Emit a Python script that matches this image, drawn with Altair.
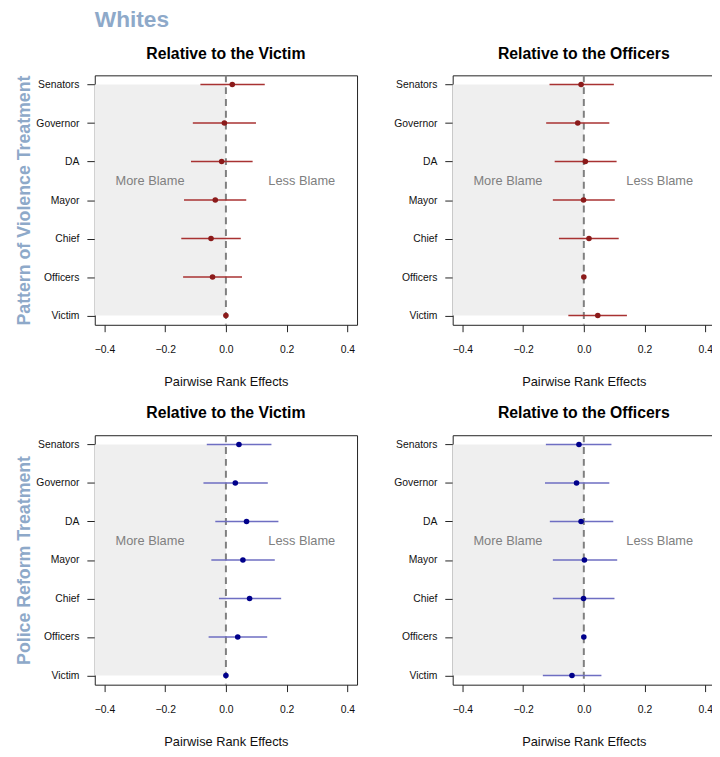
import altair as alt
import pandas as pd

FONT = "Liberation Sans"

categories = ["Victim", "Officers", "Chief", "Mayor", "DA", "Governor", "Senators"]
positions = [1, 2, 3, 4, 5, 6, 7]

# Pattern of Violence treatment
viol_victim_est = [0.0, -0.044, -0.049, -0.035, -0.014, -0.005, 0.021]
viol_victim_lo = [None, -0.141, -0.147, -0.138, -0.115, -0.109, -0.084]
viol_victim_hi = [None, 0.053, 0.049, 0.067, 0.088, 0.099, 0.128]

viol_off_est = [0.046, 0.0, 0.017, -0.001, 0.005, -0.020, -0.009]
viol_off_lo = [-0.051, None, -0.082, -0.102, -0.096, -0.124, -0.113]
viol_off_hi = [0.142, None, 0.115, 0.102, 0.108, 0.084, 0.099]

# Police Reform treatment
ref_victim_est = [0.0, 0.039, 0.078, 0.056, 0.068, 0.031, 0.043]
ref_victim_lo = [None, -0.057, -0.023, -0.048, -0.035, -0.074, -0.063]
ref_victim_hi = [None, 0.136, 0.182, 0.161, 0.173, 0.138, 0.150]

ref_off_est = [-0.039, 0.0, -0.001, 0.002, -0.009, -0.024, -0.016]
ref_off_lo = [-0.135, None, -0.102, -0.102, -0.112, -0.128, -0.125]
ref_off_hi = [0.058, None, 0.101, 0.110, 0.097, 0.084, 0.091]

annot_text = ["More Blame", "Less Blame"]
annot_x = [-0.25, 0.25]
annot_y = [4.5, 4.5]

x_ticks = [-0.4, -0.2, 0.0, 0.2, 0.4]
XMIN, XMAX = -0.432, 0.432
YMIN, YMAX = 0.76, 7.24

W, H = 266, 253

label_expr = "[''," + ",".join("'%s'" % c for c in categories) + "][datum.value]"

RED_PT, RED_LN = "#8B1A1A", "#A83232"
BLUE_PT, BLUE_LN = "#00008B", "#6E6EC2"


def xenc(field):
    return alt.X(
        field, type="quantitative",
        scale=alt.Scale(domain=[XMIN, XMAX], nice=False, zero=False),
        axis=alt.Axis(values=x_ticks, format=".1f", title="Pairwise Rank Effects",
                      labelPadding=13, titlePadding=21, tickSize=7),
    )


def yenc(field, ytitle):
    if ytitle:
        ax = alt.Axis(values=positions, labelExpr=label_expr, title=ytitle,
                      titleX=-66, titleBaseline="alphabetic", titleColor="#8EA9C9",
                      titleFontSize=18, titleFontWeight="bold", titleFont=FONT,
                      tickSize=8, labelPadding=8)
    else:
        ax = alt.Axis(values=positions, labelExpr=label_expr, title=None,
                      tickSize=8, labelPadding=8)
    return alt.Y(field, type="quantitative",
                 scale=alt.Scale(domain=[YMIN, YMAX], nice=False, zero=False),
                 axis=ax)


def panel(est, lo, hi, pt_color, ln_color, title, ytitle=None):
    df = pd.DataFrame({"pos": positions, "cat": categories,
                       "est": est, "lo": lo, "hi": hi})
    shade = pd.DataFrame({"x": [XMIN], "x2": [0.0],
                          "y": [min(positions)], "y2": [max(positions)]})
    zero = pd.DataFrame({"x": [0.0]})
    ann = pd.DataFrame({"t": annot_text, "x": annot_x, "y": annot_y})

    rect = alt.Chart(shade).mark_rect(color="#EFEFEF").encode(
        x=xenc("x"), x2="x2", y=yenc("y", ytitle), y2="y2")
    txt = alt.Chart(ann).mark_text(font=FONT, fontSize=13, color="#808080").encode(
        x=xenc("x"), y=yenc("y", ytitle), text="t:N")
    vline = alt.Chart(zero).mark_rule(color="#7F7F7F", strokeWidth=2,
                                      strokeDash=[7, 5]).encode(x=xenc("x"))
    ci = alt.Chart(df).mark_rule(color=ln_color, strokeWidth=1.5).encode(
        x=xenc("lo"), x2="hi", y=yenc("pos", ytitle))
    pts = alt.Chart(df).mark_circle(color=pt_color, size=32, opacity=1).encode(
        x=xenc("est"), y=yenc("pos", ytitle))
    return alt.layer(rect, txt, vline, ci, pts).properties(
        width=W, height=H,
        title=alt.TitleParams(title, fontSize=16, fontWeight="bold", font=FONT,
                              anchor="middle", frame="group", baseline="alphabetic",
                              offset=0, color="black"),
    )


p1 = panel(viol_victim_est, viol_victim_lo, viol_victim_hi, RED_PT, RED_LN,
           "Relative to the Victim", "Pattern of Violence Treatment")
p2 = panel(viol_off_est, viol_off_lo, viol_off_hi, RED_PT, RED_LN,
           "Relative to the Officers")
p3 = panel(ref_victim_est, ref_victim_lo, ref_victim_hi, BLUE_PT, BLUE_LN,
           "Relative to the Victim", "Police Reform Treatment")
p4 = panel(ref_off_est, ref_off_lo, ref_off_hi, BLUE_PT, BLUE_LN,
           "Relative to the Officers")

chart = alt.concat(p1, p2, p3, p4, columns=2, spacing={"row": 112, "column": 97},
                   bounds="flush").properties(
    title=alt.TitleParams("Whites", anchor="start", frame="group", fontSize=23,
                          fontWeight="bold", font=FONT, color="#8EA9C9",
                          baseline="alphabetic", offset=-4),
    padding={"left": 7, "top": -5, "right": -4, "bottom": 0},
).configure_view(stroke="#222", strokeWidth=1).configure_axis(
    grid=False, domain=False, tickColor="#222", labelColor="#111",
    labelFont=FONT, labelFontSize=10.5, titleFont=FONT, titleFontSize=13,
    titleFontWeight="normal", titleColor="#111",
).configure_axisX(labelAngle=0)

chart.save("out.html", embed_options={"renderer": "svg", "actions": False})
